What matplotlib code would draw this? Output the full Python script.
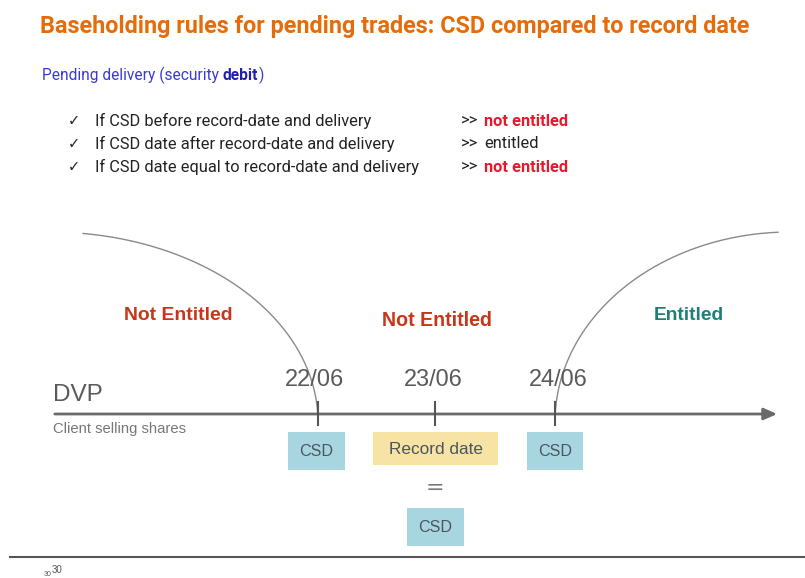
import numpy as np
import matplotlib
matplotlib.use("Agg")
import matplotlib.pyplot as plt
from matplotlib.patches import Rectangle, FancyArrowPatch

# --- contenu ---
titre = "Baseholding rules for pending trades: CSD compared to record date"
sous_titre = ("Pending delivery (security ", "debit", ")")
regles = ["If CSD before record-date and delivery",
          "If CSD date after record-date and delivery",
          "If CSD date equal to record-date and delivery"]
resultats = ["not entitled", "entitled", "not entitled"]
resultat_gras = [True, False, True]
dates = ["22/06", "23/06", "24/06"]
zones = ["Not Entitled", "Not Entitled", "Entitled"]
zone_couleurs = ["#C8361A", "#C8361A", "#1E7F7A"]
boites = ["CSD", "Record date", "CSD", "CSD"]

# --- mise en page (pixels) ---
W, H = 805, 578
CAL = "Roboto"            # a la place de Calibri
ARI = "Liberation Sans"   # a la place d'Arial
GRIS = "#5a5a5a"

fig = plt.figure(figsize=(W / 100, H / 100), dpi=100)
ax = fig.add_axes([0, 0, 1, 1])
ax.set_xlim(0, W); ax.set_ylim(H, 0); ax.axis("off")
rend = fig.canvas.get_renderer()


def largeur(t):
    bb = t.get_window_extent(renderer=rend)
    return bb.x1 - bb.x0, bb.x1


def ajuste(t, cible):
    """reduit/augmente la taille pour tenir dans 'cible' pixels de large"""
    w, _ = largeur(t)
    t.set_fontsize(t.get_fontsize() * cible / w)
    return t


ajuste(ax.text(40, 27, titre, color="#E46C0A", fontsize=19, fontweight="bold",
               family=CAL, va="center", ha="left"), 712)

# sous-titre en trois morceaux
fs_sub = 11.2
x = 42
for part, c, wt in zip(sous_titre, ["#3A3AD6", "#2020B0", "#3A3AD6"], ["normal", "bold", "normal"]):
    t = ax.text(x, 75, part, color=c, fontsize=fs_sub, family=CAL, fontweight=wt, va="center")
    x = ax.transData.inverted().transform((largeur(t)[1], 0))[0]

t0 = ajuste(ax.text(95, 121, regles[0], fontsize=11, va="center", color="#222222", family=CAL), 274)
fs_r = t0.get_fontsize()
for i, (r, res, g) in enumerate(zip(regles, resultats, resultat_gras)):
    y = 121 + i * 23
    ax.text(68, y, "\u2713", fontsize=10.5, va="center", color="#222222", family="DejaVu Sans")
    if i > 0:
        ax.text(95, y, r, fontsize=fs_r, va="center", color="#222222", family=CAL)
    ax.text(461, y, ">>", fontsize=fs_r, va="center", color="#222222", family=CAL)
    ax.text(484, y, res, fontsize=fs_r, va="center", family=CAL,
            color="#E8192C" if g else "#222222", fontweight="bold" if g else "normal")

# arcs
th = np.linspace(0, np.arccos(33 / 268), 200)
ax.plot(50 + 268 * np.cos(th), 422 - 190 * np.sin(th), color="#8a8a8a", lw=1)
th2 = np.linspace(np.arccos(-12 / 235), np.pi, 200)
ax.plot(790 + 235 * np.cos(th2), 422 - 190 * np.sin(th2), color="#8a8a8a", lw=1)

# axe
ax.add_patch(FancyArrowPatch((52, 414), (780, 414), arrowstyle="-|>,head_length=8,head_width=3.5",
                             color="#6a6a6a", lw=2, mutation_scale=1))
tick_x = [318, 435, 555]
date_cx = [314, 433, 558]
for x, cx, d in zip(tick_x, date_cx, dates):
    ax.plot([x, x], [402, 425], color="#555555", lw=1.5)
    ajuste(ax.text(cx, 380, d, fontsize=15, color=GRIS, ha="center", va="center",
                   family=ARI), 59)

ajuste(ax.text(53, 395, "DVP", fontsize=15, color=GRIS, va="center", family=ARI), 50)
ajuste(ax.text(53, 429, "Client selling shares", fontsize=10, color="#777777", va="center",
               family=ARI), 132)

for (cx, cy), z, c, wz in zip([(178, 315), (437, 321), (689, 315)], zones, zone_couleurs,
                              [109, 110, 70]):
    ajuste(ax.text(cx, cy, z, fontsize=13.5, color=c, fontweight="bold", ha="center",
                   va="center", family=ARI), wz)

rects = [(288, 432, 57, 38, "#A8D6E0"), (373, 432, 125, 33, "#F7E3A3"),
         (527, 432, 56, 38, "#A8D6E0"), (407, 508, 57, 38, "#A8D6E0")]
for (x0, y0, w, h, fc), lab in zip(rects, boites):
    ax.add_patch(Rectangle((x0, y0), w, h, facecolor=fc, edgecolor="none"))
    ajuste(ax.text(x0 + w / 2, y0 + h / 2 + 1, lab, fontsize=11.5, color="#4a5560",
                   ha="center", va="center", family=ARI), 34 if lab == "CSD" else 94)
ax.text(435, 488, "=", fontsize=16, color="#777777", ha="center", va="center")

ax.plot([10, 805], [557, 557], color="#555555", lw=1.5)
ax.text(44, 574, "30", fontsize=5, color="#555555", va="center", family=ARI)
ax.text(52, 570, "30", fontsize=7, color="#555555", va="center", family=ARI)

fig.savefig("out.png", dpi=100)
